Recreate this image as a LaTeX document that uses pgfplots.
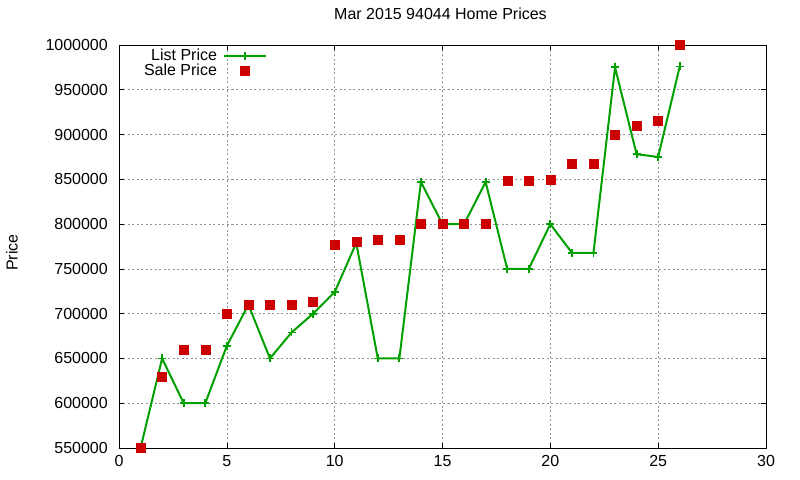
\documentclass[border=0pt]{standalone}
\usepackage{pgfplots}
\pgfplotsset{compat=1.18}
\usepackage{fontspec}
\setmainfont{Liberation Sans}
\definecolor{lgreen}{RGB}{0,160,0}
\definecolor{sred}{RGB}{204,0,0}
\begin{document}
\fontsize{16bp}{19bp}\selectfont
\begin{tikzpicture}
\path[use as bounding box] (-119bp,-32bp) rectangle (681bp,448bp);
\begin{axis}[
  at={(0,0)}, anchor=south west,
  scale only axis,
  width=647bp, height=403bp,
  xmin=0, xmax=30, ymin=550000, ymax=1000000,
  xtick={0,5,...,30},
  ytick={550000,600000,...,1000000},
  scaled y ticks=false,
  /pgf/number format/.cd, fixed, precision=0, 1000 sep={}, assume math mode=true,
  /pgfplots/.cd,
  tick align=inside,
  major tick length=5bp,
  tick style={black, line width=0.6bp},
  axis line style={black, line width=0.8bp},
  grid=major,
  major grid style={gray!85, line width=0.6bp, dash pattern=on 2bp off 2.5bp},
  tick label style={font=\fontsize{16bp}{19bp}\selectfont, inner sep=0pt},
  yticklabel style={xshift=-11bp},
  xticklabel style={yshift=-7bp},
  title={Mar 2015 94044 Home Prices},
  title style={at={(0.5,1)}, anchor=center, yshift=25bp, xshift=-2bp, font=\fontsize{16bp}{19bp}\selectfont},
  ylabel={Price},
  ylabel style={at={(0,0.5)}, anchor=center, yshift=107bp, xshift=-6bp, font=\fontsize{16bp}{19bp}\selectfont},
  clip=false,
  legend cell align=right,
  legend plot pos=right,
  legend style={at={(0.229,0.995)}, anchor=north east, draw=none, fill=none,
    inner sep=0pt, row sep=-3bp,
    font=\fontsize{16bp}{18bp}\selectfont},
  legend image code/.code={\draw[mark repeat=2,mark phase=2,#1] plot coordinates {(0bp,0bp) (21bp,0bp) (42bp,0bp)};},
]
\addplot[lgreen, line width=2bp, mark=+, mark size=4bp, mark options={line width=1.8bp}] coordinates {
(1,550000) (2,650000) (3,600000) (4,600000) (5,664000) (6,710000) (7,650000)
(8,679000) (9,700000) (10,724000) (11,779000) (12,650000) (13,650000)
(14,847000) (15,800000) (16,800000) (17,847000) (18,750000) (19,750000)
(20,800000) (21,768000) (22,768000) (23,975000) (24,878000) (25,875000) (26,976000)
};
\addlegendentry{List Price\kern4bp\null}
\addplot[only marks, sred, mark=square*, mark size=4.5bp, mark options={draw=none, fill=sred}] coordinates {
(1,550000) (2,630000) (3,660000) (4,660000) (5,700000) (6,710000) (7,710000)
(8,710000) (9,713000) (10,777000) (11,780000) (12,783000) (13,783000)
(14,800000) (15,800000) (16,800000) (17,800000) (18,849000) (19,849000)
(20,850000) (21,868000) (22,868000) (23,900000) (24,910000) (25,916000) (26,1000000)
};
\addlegendentry{Sale Price\kern4bp\null}
\end{axis}
\end{tikzpicture}
\end{document}
